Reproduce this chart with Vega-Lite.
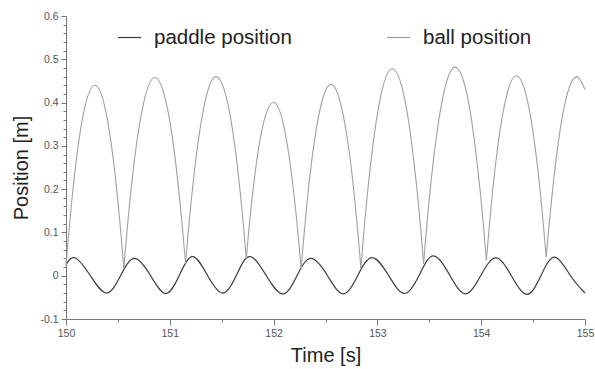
{
  "$schema": "https://vega.github.io/schema/vega-lite/v6.json",
  "width": 519,
  "height": 303,
  "autosize": "none",
  "padding": {"left": 66, "top": 16, "right": 10, "bottom": 50},
  "background": "white",
  "config": {
    "view": {"stroke": null},
    "font": "Liberation Sans",
    "axis": {"grid": false, "domainColor": "#777777", "tickColor": "#777777", "labelColor": "#555555", "labelFont": "Liberation Sans", "labelFontSize": 10.5, "titleFont": "Liberation Sans", "titleFontSize": 20, "titleFontWeight": "normal", "titleColor": "#222222", "labelOverlap": false, "labelFlush": false}
  },
  "datasets": {
    "paddle": [
      {"s":"paddle position","arc":"p","t":150.00,"v":0.026},
      {"s":"paddle position","arc":"p","t":150.09,"v":0.041},
      {"s":"paddle position","arc":"p","t":150.235,"v":0.0},
      {"s":"paddle position","arc":"p","t":150.39,"v":-0.040},
      {"s":"paddle position","arc":"p","t":150.525,"v":0.0},
      {"s":"paddle position","arc":"p","t":150.66,"v":0.040},
      {"s":"paddle position","arc":"p","t":150.815,"v":0.0},
      {"s":"paddle position","arc":"p","t":150.96,"v":-0.041},
      {"s":"paddle position","arc":"p","t":151.09,"v":0.0},
      {"s":"paddle position","arc":"p","t":151.22,"v":0.044},
      {"s":"paddle position","arc":"p","t":151.365,"v":0.0},
      {"s":"paddle position","arc":"p","t":151.51,"v":-0.040},
      {"s":"paddle position","arc":"p","t":151.64,"v":0.0},
      {"s":"paddle position","arc":"p","t":151.77,"v":0.044},
      {"s":"paddle position","arc":"p","t":151.93,"v":0.0},
      {"s":"paddle position","arc":"p","t":152.09,"v":-0.042},
      {"s":"paddle position","arc":"p","t":152.225,"v":0.0},
      {"s":"paddle position","arc":"p","t":152.36,"v":0.040},
      {"s":"paddle position","arc":"p","t":152.52,"v":0.0},
      {"s":"paddle position","arc":"p","t":152.67,"v":-0.042},
      {"s":"paddle position","arc":"p","t":152.81,"v":0.0},
      {"s":"paddle position","arc":"p","t":152.95,"v":0.042},
      {"s":"paddle position","arc":"p","t":153.11,"v":0.0},
      {"s":"paddle position","arc":"p","t":153.26,"v":-0.041},
      {"s":"paddle position","arc":"p","t":153.40,"v":0.0},
      {"s":"paddle position","arc":"p","t":153.54,"v":0.046},
      {"s":"paddle position","arc":"p","t":153.70,"v":0.0},
      {"s":"paddle position","arc":"p","t":153.85,"v":-0.042},
      {"s":"paddle position","arc":"p","t":153.995,"v":0.0},
      {"s":"paddle position","arc":"p","t":154.14,"v":0.041},
      {"s":"paddle position","arc":"p","t":154.29,"v":0.0},
      {"s":"paddle position","arc":"p","t":154.44,"v":-0.043},
      {"s":"paddle position","arc":"p","t":154.575,"v":0.0},
      {"s":"paddle position","arc":"p","t":154.71,"v":0.043},
      {"s":"paddle position","arc":"p","t":154.86,"v":0.0},
      {"s":"paddle position","arc":"p","t":155.00,"v":-0.040}
    ],
    "ball": [
      {"s":"ball position","arc":"b1","t":150.000,"v":0.022},
      {"s":"ball position","arc":"b1","t":150.028,"v":0.102},
      {"s":"ball position","arc":"b1","t":150.084,"v":0.236},
      {"s":"ball position","arc":"b1","t":150.167,"v":0.374},
      {"s":"ball position","arc":"b1","t":150.279,"v":0.440},
      {"s":"ball position","arc":"b1","t":150.390,"v":0.372},
      {"s":"ball position","arc":"b1","t":150.473,"v":0.233},
      {"s":"ball position","arc":"b1","t":150.529,"v":0.098},
      {"s":"ball position","arc":"b1","t":150.557,"v":0.018},

      {"s":"ball position","arc":"b2","t":150.557,"v":0.018},
      {"s":"ball position","arc":"b2","t":150.587,"v":0.101},
      {"s":"ball position","arc":"b2","t":150.646,"v":0.241},
      {"s":"ball position","arc":"b2","t":150.736,"v":0.386},
      {"s":"ball position","arc":"b2","t":150.855,"v":0.458},
      {"s":"ball position","arc":"b2","t":150.974,"v":0.390},
      {"s":"ball position","arc":"b2","t":151.063,"v":0.248},
      {"s":"ball position","arc":"b2","t":151.122,"v":0.110},
      {"s":"ball position","arc":"b2","t":151.152,"v":0.028},

      {"s":"ball position","arc":"b3","t":151.152,"v":0.028},
      {"s":"ball position","arc":"b3","t":151.181,"v":0.110},
      {"s":"ball position","arc":"b3","t":151.240,"v":0.247},
      {"s":"ball position","arc":"b3","t":151.328,"v":0.389},
      {"s":"ball position","arc":"b3","t":151.445,"v":0.460},
      {"s":"ball position","arc":"b3","t":151.562,"v":0.394},
      {"s":"ball position","arc":"b3","t":151.649,"v":0.256},
      {"s":"ball position","arc":"b3","t":151.708,"v":0.120},
      {"s":"ball position","arc":"b3","t":151.737,"v":0.040},

      {"s":"ball position","arc":"b4","t":151.737,"v":0.040},
      {"s":"ball position","arc":"b4","t":151.763,"v":0.110},
      {"s":"ball position","arc":"b4","t":151.816,"v":0.226},
      {"s":"ball position","arc":"b4","t":151.895,"v":0.345},
      {"s":"ball position","arc":"b4","t":152.001,"v":0.400},
      {"s":"ball position","arc":"b4","t":152.107,"v":0.336},
      {"s":"ball position","arc":"b4","t":152.186,"v":0.209},
      {"s":"ball position","arc":"b4","t":152.239,"v":0.088},
      {"s":"ball position","arc":"b4","t":152.265,"v":0.016},

      {"s":"ball position","arc":"b5","t":152.265,"v":0.016},
      {"s":"ball position","arc":"b5","t":152.294,"v":0.097},
      {"s":"ball position","arc":"b5","t":152.351,"v":0.233},
      {"s":"ball position","arc":"b5","t":152.438,"v":0.374},
      {"s":"ball position","arc":"b5","t":152.553,"v":0.442},
      {"s":"ball position","arc":"b5","t":152.668,"v":0.374},
      {"s":"ball position","arc":"b5","t":152.755,"v":0.235},
      {"s":"ball position","arc":"b5","t":152.812,"v":0.099},
      {"s":"ball position","arc":"b5","t":152.841,"v":0.018},

      {"s":"ball position","arc":"b6","t":152.841,"v":0.018},
      {"s":"ball position","arc":"b6","t":152.871,"v":0.105},
      {"s":"ball position","arc":"b6","t":152.932,"v":0.252},
      {"s":"ball position","arc":"b6","t":153.022,"v":0.403},
      {"s":"ball position","arc":"b6","t":153.143,"v":0.478},
      {"s":"ball position","arc":"b6","t":153.264,"v":0.407},
      {"s":"ball position","arc":"b6","t":153.354,"v":0.259},
      {"s":"ball position","arc":"b6","t":153.415,"v":0.114},
      {"s":"ball position","arc":"b6","t":153.445,"v":0.028},

      {"s":"ball position","arc":"b7","t":153.445,"v":0.028},
      {"s":"ball position","arc":"b7","t":153.475,"v":0.114},
      {"s":"ball position","arc":"b7","t":153.536,"v":0.259},
      {"s":"ball position","arc":"b7","t":153.627,"v":0.408},
      {"s":"ball position","arc":"b7","t":153.748,"v":0.482},
      {"s":"ball position","arc":"b7","t":153.869,"v":0.412},
      {"s":"ball position","arc":"b7","t":153.959,"v":0.264},
      {"s":"ball position","arc":"b7","t":154.020,"v":0.121},
      {"s":"ball position","arc":"b7","t":154.050,"v":0.036},

      {"s":"ball position","arc":"b8","t":154.050,"v":0.036},
      {"s":"ball position","arc":"b8","t":154.079,"v":0.117},
      {"s":"ball position","arc":"b8","t":154.136,"v":0.253},
      {"s":"ball position","arc":"b8","t":154.223,"v":0.393},
      {"s":"ball position","arc":"b8","t":154.338,"v":0.462},
      {"s":"ball position","arc":"b8","t":154.453,"v":0.396},
      {"s":"ball position","arc":"b8","t":154.540,"v":0.257},
      {"s":"ball position","arc":"b8","t":154.597,"v":0.123},
      {"s":"ball position","arc":"b8","t":154.626,"v":0.043},

      {"s":"ball position","arc":"b9","t":154.626,"v":0.043},
      {"s":"ball position","arc":"b9","t":154.656,"v":0.122},
      {"s":"ball position","arc":"b9","t":154.715,"v":0.256},
      {"s":"ball position","arc":"b9","t":154.803,"v":0.394},
      {"s":"ball position","arc":"b9","t":154.921,"v":0.460},
      {"s":"ball position","arc":"b9","t":155.000,"v":0.430}
    ]
  },
  "encoding": {
    "x": {
      "field": "t", "type": "quantitative",
      "scale": {"domain": [150, 155], "nice": false, "zero": false},
      "axis": {
        "title": "Time [s]",
        "values": [150, 150.5, 151, 151.5, 152, 152.5, 153, 153.5, 154, 154.5, 155],
        "labelExpr": "datum.value % 1 === 0 ? '' + datum.value : ''",
        "tickSize": {"condition": {"test": "datum.value % 1 === 0", "value": 6}, "value": 3},
        "labelPadding": 3,
        "titlePadding": 7
      }
    },
    "y": {
      "field": "v", "type": "quantitative",
      "scale": {"domain": [-0.1, 0.6], "nice": false, "zero": false},
      "axis": {
        "title": "Position [m]",
        "values": [-0.1,-0.08,-0.06,-0.04,-0.02,0,0.02,0.04,0.06,0.08,0.1,0.12,0.14,0.16,0.18,0.2,0.22,0.24,0.26,0.28,0.3,0.32,0.34,0.36,0.38,0.4,0.42,0.44,0.46,0.48,0.5,0.52,0.54,0.56,0.58,0.6],
        "labelExpr": "abs(datum.value*10 - round(datum.value*10)) < 0.001 ? '' + round(datum.value*10)/10 : ''",
        "tickSize": {"condition": {"test": "abs(datum.value*10 - round(datum.value*10)) < 0.001", "value": 5}, "value": 3},
        "labelPadding": 3,
        "titlePadding": 8
      }
    },
    "color": {
      "field": "s", "type": "nominal",
      "scale": {"domain": ["paddle position", "ball position"], "range": ["#3a3a3a", "#a0a0a0"]},
      "legend": {
        "title": null,
        "orient": "none",
        "legendX": 51,
        "legendY": 9,
        "direction": "horizontal",
        "columns": 2,
        "columnPadding": 92,
        "symbolType": "stroke",
        "symbolSize": 529,
        "symbolStrokeWidth": 1.2,
        "labelFont": "Liberation Sans",
        "labelFontSize": 20.5,
        "labelColor": "#222222",
        "labelOffset": 12,
        "labelLimit": 300,
        "padding": 0
      }
    },
    "detail": {"field": "arc", "type": "nominal"}
  },
  "layer": [
    {
      "data": {"name": "paddle"},
      "mark": {"type": "line", "interpolate": "natural", "strokeWidth": 1.2}
    },
    {
      "data": {"name": "ball"},
      "mark": {"type": "line", "interpolate": "monotone", "strokeWidth": 1.1}
    }
  ]
}
